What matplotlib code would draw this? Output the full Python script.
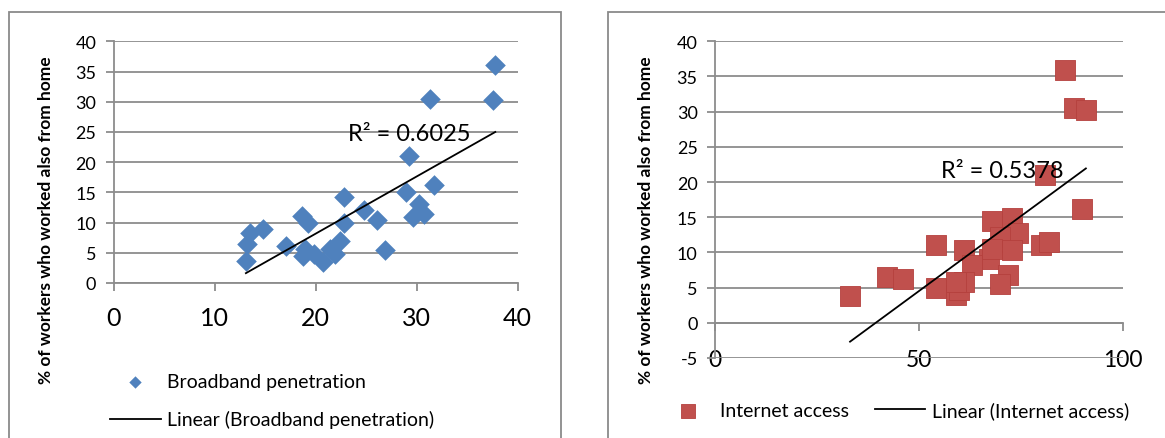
import numpy as np
import matplotlib
matplotlib.use("Agg")
import matplotlib.pyplot as plt
from matplotlib.patches import Rectangle

plt.rcParams['font.family'] = ['Lato', 'DejaVu Sans']
plt.rcParams['axes.unicode_minus'] = False

# ---------------- data ----------------
broadband_x = [37.8, 37.6, 31.3, 29.3, 31.7, 29.0, 30.2, 29.7, 30.7, 22.8,
               24.8, 26.1, 26.9, 22.8, 18.7, 19.3, 14.8, 13.5, 13.2, 13.1,
               17.1, 19.0, 18.8, 19.8, 20.7, 21.4, 22.4, 21.9]
broadband_y = [36.0, 30.3, 30.5, 21.1, 16.2, 15.0, 13.1, 10.9, 11.4, 14.3,
               12.0, 10.4, 5.5, 10.0, 11.1, 10.0, 8.9, 8.2, 6.5, 3.7,
               6.2, 5.6, 4.5, 4.8, 3.5, 5.6, 7.0, 4.8]

internet_x = [85.9, 88.0, 90.9, 80.9, 90.0, 67.9, 72.8, 74.2, 69.9, 72.8,
              79.9, 81.9, 54.1, 61.0, 67.1, 63.0, 67.9, 71.9, 69.9, 42.1,
              46.1, 54.1, 59.1, 59.8, 61.1, 59.0, 33.1]
internet_y = [35.9, 30.5, 30.3, 21.0, 16.2, 14.4, 14.9, 12.7, 12.2, 10.3,
              11.0, 11.5, 11.1, 10.3, 9.1, 8.2, 10.5, 6.8, 5.5, 6.5,
              6.2, 4.9, 3.9, 4.7, 5.8, 5.8, 3.8]

r2_labels = ["R\u00b2 = 0.6025", "R\u00b2 = 0.5378"]
left_xticks = [0, 10, 20, 30, 40]
left_yticks = [0, 5, 10, 15, 20, 25, 30, 35, 40]
right_xticks = [0, 50, 100]
right_yticks = [-5, 0, 5, 10, 15, 20, 25, 30, 35, 40]
ylabel = "% of workers who worked also from home"
series_names = ["Broadband penetration", "Internet access"]

BLUE = "#4F81BD"
RED = "#C0504D"
GRID = "#8C8C8C"

W, H = 1165, 439
fig = plt.figure(figsize=(W / 100, H / 100), dpi=100)

def fx(px):
    return px / W

def fy(py):
    return 1 - py / H

# panel frames
for x0, x1 in [(9, 561), (608, 1175)]:
    fig.add_artist(Rectangle((fx(x0), fy(450)), fx(x1 - x0), (450 - 13) / H,
                             transform=fig.transFigure, fill=False,
                             edgecolor="#8A8A8A", linewidth=1.3, clip_on=False))

def style_axes(ax):
    for s in ['top', 'right']:
        ax.spines[s].set_visible(False)
    for s in ['left', 'bottom']:
        ax.spines[s].set_color(GRID)
        ax.spines[s].set_linewidth(1.3)
    ax.yaxis.grid(True, color=GRID, linewidth=1.3)
    ax.set_axisbelow(True)
    ax.tick_params(axis='both', color=GRID, width=1.3, length=5.5, direction='out')
    ax.tick_params(axis='y', labelsize=13, pad=7)

# ---------------- left chart ----------------
axL = fig.add_axes([fx(113.6), fy(284), fx(517.5 - 113.6), (284 - 42.3) / H])
style_axes(axL)
axL.set_xlim(0, 40)
axL.set_ylim(0, 40)
axL.set_xticks(left_xticks)
axL.set_yticks(left_yticks)
axL.tick_params(axis='x', labelsize=18, pad=11)
axL.scatter(broadband_x, broadband_y, marker='D', s=10.5**2, color=BLUE,
            linewidths=0, zorder=3, label=series_names[0])
bx = np.array(broadband_x)
k, b = np.polyfit(bx, broadband_y, 1)
xs = np.array([bx.min(), bx.max()])
axL.plot(xs, k * xs + b, color='black', linewidth=1.3, zorder=4,
         label="Linear (" + series_names[0] + ")")
axL.text(23.2, 24.7, r2_labels[0], fontsize=17, va='center', ha='left', zorder=5)
axL.set_ylabel(ylabel, fontsize=12.5, fontweight='bold')
axL.legend(loc='upper left', bbox_to_anchor=(fx(110), fy(374)),
           bbox_transform=fig.transFigure, frameon=False, fontsize=14,
           borderpad=0, borderaxespad=0, handlelength=2.6, markerscale=0.6,
           handletextpad=0.35, labelspacing=1.05)

# ---------------- right chart ----------------
axR = fig.add_axes([fx(715), fy(359), fx(1123 - 715), (359 - 42.3) / H])
style_axes(axR)
axR.set_xlim(0, 100)
axR.set_ylim(-5, 40)
axR.set_xticks(right_xticks)
axR.set_yticks(right_yticks)
axR.spines['bottom'].set_position(('data', 0))
axR.tick_params(axis='x', labelsize=16.5, pad=13)
axR.scatter(internet_x, internet_y, marker='s', s=14**2, color=RED,
            edgecolors="#B5403D", linewidths=0.6, zorder=3, label=series_names[1])
ix = np.array(internet_x)
k2, b2 = np.polyfit(ix, internet_y, 1)
xs2 = np.array([ix.min(), ix.max()])
axR.plot(xs2, k2 * xs2 + b2, color='black', linewidth=1.3, zorder=4,
         label="Linear (" + series_names[1] + ")")
axR.text(55.5, 21.6, r2_labels[1], fontsize=17, va='center', ha='left', zorder=5)
axR.set_ylabel(ylabel, fontsize=12.5, fontweight='bold')
axR.legend(loc='upper left', bbox_to_anchor=(fx(663), fy(402)),
           bbox_transform=fig.transFigure, frameon=False, fontsize=14,
           borderpad=0, borderaxespad=0, handlelength=2.6, ncol=2, markerscale=0.68,
           handletextpad=0.35, columnspacing=1.3)

# place y labels at fixed figure positions
for ax, cx in [(axL, 46), (axR, 646)]:
    ax.yaxis.set_label_coords(fx(cx), fy(220), transform=fig.transFigure)
    ax.yaxis.label.set_va('center')

fig.savefig("out.png", dpi=100)
